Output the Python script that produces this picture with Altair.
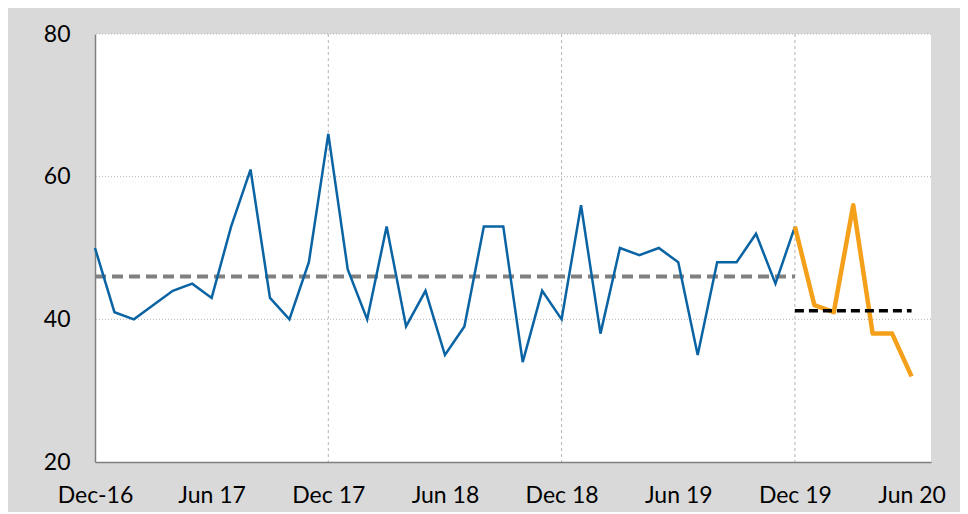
import altair as alt
import pandas as pd

# ---- data ----
tick_labels = ["Dec-16", "Jun 17", "Dec 17", "Jun 18", "Dec 18", "Jun 19", "Dec 19", "Jun 20"]
tick_months = [0, 6, 12, 18, 24, 30, 36, 42]
grid_months = [12, 24, 36]
grid_values = [40, 60, 80]

blue_values = [50, 41, 40, 42, 44, 45, 43, 53, 61, 43, 40, 48, 66, 47, 40, 53, 39, 44,
               35, 39, 53, 53, 34, 44, 40, 56, 38, 50, 49, 50, 48, 35, 48, 48, 52, 45, 53]
orange_values = [53, 42, 41, 56, 38, 38, 32]
orange_start = 36

avg_blue = 46.0
avg_orange = 41.2

blue_df = pd.DataFrame({"m": list(range(len(blue_values))), "v": blue_values})
orange_df = pd.DataFrame({"m": [orange_start + i for i in range(len(orange_values))], "v": orange_values})
avg_df = pd.DataFrame({"x1": [0, orange_start], "x2": [orange_start, orange_start + len(orange_values) - 1],
                       "v": [avg_blue, avg_orange], "s": ["a", "b"]})
hgrid_df = pd.DataFrame({"v": grid_values})
vgrid_df = pd.DataFrame({"m": grid_months})

FONT = "Lato, sans-serif"
label_arr = "[" + ",".join("'" + t + "'" for t in tick_labels) + "]"

xscale = alt.Scale(domain=[0, 43], nice=False, zero=False)
yscale = alt.Scale(domain=[20, 80], nice=False, zero=False)

xaxis = alt.Axis(values=tick_months, labelExpr=label_arr + "[round(datum.value/6)]",
                 grid=False, ticks=False, domain=True, domainColor="#7f7f7f", domainWidth=1.5,
                 labelFont=FONT, labelFontSize=23, labelColor="#000000", labelPadding=22,
                 labelFlush=False, labelOverlap=False, title=None)
yaxis = alt.Axis(values=[20, 40, 60, 80], grid=False, ticks=False, domain=True,
                 domainColor="#7f7f7f", domainWidth=1.5,
                 labelFont=FONT, labelFontSize=23, labelColor="#000000", labelPadding=25,
                 labelFlush=False, title=None)

X = lambda f: alt.X(f, scale=xscale, axis=xaxis)
Y = lambda f: alt.Y(f, scale=yscale, axis=yaxis)

hgrid = alt.Chart(hgrid_df).mark_rule(color="#b4b4b4", strokeWidth=1, strokeDash=[1, 2]).encode(
    y=Y("v:Q"))
vgrid = alt.Chart(vgrid_df).mark_rule(color="#b4b4b4", strokeWidth=1, strokeDash=[3, 3]).encode(
    x=X("m:Q"))

blue = alt.Chart(blue_df).mark_line(color="#0a64a4", strokeWidth=2.5).encode(
    x=X("m:Q"), y=Y("v:Q"))
orange = alt.Chart(orange_df).mark_line(color="#f5a01a", strokeWidth=4.5, strokeJoin="round").encode(
    x=X("m:Q"), y=Y("v:Q"))

avg_a = alt.Chart(avg_df).transform_filter(alt.datum.s == "a").mark_rule(
    color="#808080", strokeWidth=4, strokeDash=[11, 6]).encode(
    x=X("x1:Q"), x2="x2:Q", y=Y("v:Q"))
avg_b = alt.Chart(avg_df).transform_filter(alt.datum.s == "b").mark_rule(
    color="#000000", strokeWidth=3.5, strokeDash=[9, 5]).encode(
    x=X("x1:Q"), x2="x2:Q", y=Y("v:Q"))

chart = alt.layer(hgrid, vgrid, avg_a, blue, orange, avg_b).properties(
    width=836, height=428,
    autosize=alt.AutoSizeParams(type="none"),
    padding={"left": 87, "top": 26, "right": 29, "bottom": 50},
    background="#d9d9d9",
).configure_view(fill="#ffffff", stroke=None)

chart.save("out.html", embed_options={"renderer": "svg", "actions": False})
